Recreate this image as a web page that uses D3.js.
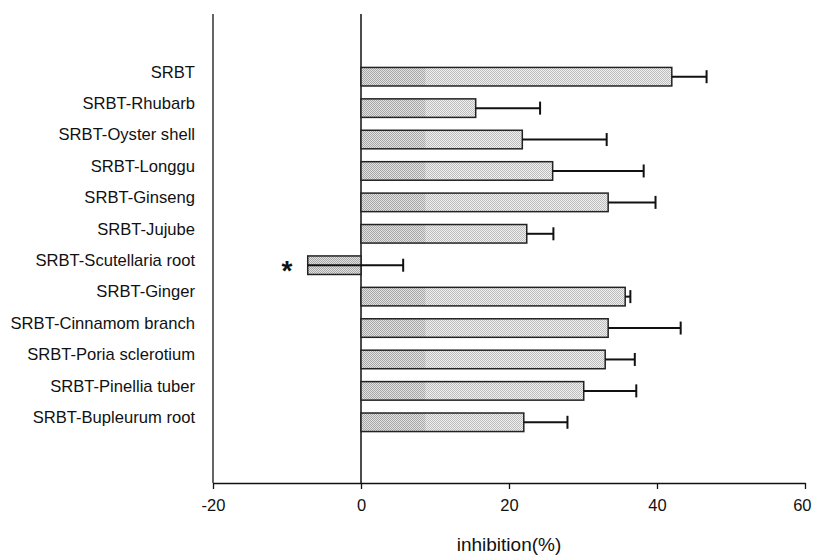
<!DOCTYPE html>
<html>
<head>
<meta charset="utf-8">
<script src="https://cdn.jsdelivr.net/npm/d3@7"></script>
<style>
  body { margin: 0; background: #fff; }
  text { font-family: "Liberation Sans", Arial, sans-serif; fill: #111; }
</style>
</head>
<body>
<div id="container"></div>
<script>
const categories = ["SRBT", "SRBT-Rhubarb", "SRBT-Oyster shell", "SRBT-Longgu", "SRBT-Ginseng",
  "SRBT-Jujube", "SRBT-Scutellaria root", "SRBT-Ginger", "SRBT-Cinnamom branch",
  "SRBT-Poria sclerotium", "SRBT-Pinellia tuber", "SRBT-Bupleurum root"]
const inhibition = [42.0, 15.5, 21.8, 25.9, 33.4, 22.4, -7.2, 35.7, 33.4, 33.0, 30.1, 22.0]
const errors = [4.7, 8.7, 11.4, 12.3, 6.4, 3.6, 12.9, 0.7, 9.8, 4.0, 7.1, 5.9]
const marks = ["", "", "", "", "", "", "*", "", "", "", "", ""]
const xTicks = [-20, 0, 20, 40, 60]

const width = 813, height = 557
const plotTop = 14, plotBottom = 483

const data = categories.map((c, i) => ({label: c, value: inhibition[i], err: errors[i], mark: marks[i]}))

const svg = d3.select("#container")
  .append("svg")
    .attr("width", width)
    .attr("height", height)

// stippled fills
const defs = svg.append("defs")
function stipple(id, bg, fg) {
  const p = defs.append("pattern").attr("id", id)
    .attr("patternUnits", "userSpaceOnUse").attr("width", 2).attr("height", 2)
  p.append("rect").attr("width", 2).attr("height", 2).attr("fill", bg)
  p.append("rect").attr("width", 1).attr("height", 1).attr("fill", fg)
  p.append("rect").attr("x", 1).attr("y", 1).attr("width", 1).attr("height", 1).attr("fill", fg)
}
stipple("lightDots", "#f0f0f0", "#bdbdbd")
stipple("darkDots", "#e2e2e2", "#a6a6a6")

const x = d3.scaleLinear().domain([-20, 60]).range([213, 805])
const y = d3.scaleBand().domain(categories).range([61, 438]).paddingInner(0.41).paddingOuter(0.205)

// x axis
const xAxis = svg.append("g")
  .attr("transform", `translate(0,${plotBottom})`)
  .call(d3.axisBottom(x).tickValues(xTicks).tickFormat(d3.format("d")).tickSize(6).tickSizeOuter(0))
xAxis.select(".domain").attr("stroke", "#111").attr("stroke-width", 1.5)
xAxis.selectAll(".tick line").attr("stroke", "#111").attr("stroke-width", 1.3)
xAxis.selectAll(".tick text").attr("y", 16).style("font-size", "16.5px").attr("fill", "#111")
  .text(d => d < 0 ? "-" + Math.abs(d) : d)
// keep the last label inside the page
xAxis.selectAll(".tick text").filter(d => d === 60)
  .attr("text-anchor", "end").attr("x", width - 2 - x(60))

svg.append("text")
  .attr("x", (x(-20) + x(60)) / 2)
  .attr("y", 551)
  .attr("text-anchor", "middle")
  .style("font-size", "19px")
  .text("inhibition(%)")

// left line and zero line
svg.append("line")
  .attr("x1", x(-20)).attr("x2", x(-20)).attr("y1", plotTop).attr("y2", plotBottom)
  .attr("stroke", "#333").attr("stroke-width", 1.5)
svg.append("line")
  .attr("x1", x(0)).attr("x2", x(0)).attr("y1", plotTop).attr("y2", plotBottom)
  .attr("stroke", "#111").attr("stroke-width", 1.5)

// category labels
svg.append("g").selectAll("text")
  .data(data)
  .join("text")
    .attr("x", 195)
    .attr("y", d => y(d.label) + y.bandwidth() / 2 - 5)
    .attr("dy", "0.35em")
    .attr("text-anchor", "end")
    .style("font-size", "16.6px")
    .text(d => d.label)

// bars
const bars = svg.append("g")
bars.selectAll("rect.bar")
  .data(data)
  .join("rect")
    .attr("class", "bar")
    .attr("x", d => x(Math.min(0, d.value)))
    .attr("y", d => y(d.label))
    .attr("width", d => Math.abs(x(d.value) - x(0)))
    .attr("height", y.bandwidth())
    .attr("fill", d => d.value < 0 ? "url(#darkDots)" : "url(#lightDots)")
// darker band near the zero line
bars.selectAll("rect.shade")
  .data(data.filter(d => d.value > 0))
  .join("rect")
    .attr("class", "shade")
    .attr("x", x(0))
    .attr("y", d => y(d.label))
    .attr("width", d => x(Math.min(d.value, 8.7)) - x(0))
    .attr("height", y.bandwidth())
    .attr("fill", "url(#darkDots)")
bars.selectAll("rect.outline")
  .data(data)
  .join("rect")
    .attr("class", "outline")
    .attr("x", d => x(Math.min(0, d.value)))
    .attr("y", d => y(d.label))
    .attr("width", d => Math.abs(x(d.value) - x(0)))
    .attr("height", y.bandwidth())
    .attr("fill", "none")
    .attr("stroke", "#222")
    .attr("stroke-width", 1.5)

// error bars
const eb = svg.append("g").attr("stroke", "#111").attr("stroke-width", 2)
eb.selectAll("line.stem")
  .data(data)
  .join("line")
    .attr("class", "stem")
    .attr("x1", d => x(d.value))
    .attr("x2", d => x(d.value + d.err))
    .attr("y1", d => y(d.label) + y.bandwidth() / 2)
    .attr("y2", d => y(d.label) + y.bandwidth() / 2)
eb.selectAll("line.cap")
  .data(data)
  .join("line")
    .attr("class", "cap")
    .attr("x1", d => x(d.value + d.err))
    .attr("x2", d => x(d.value + d.err))
    .attr("y1", d => y(d.label) + y.bandwidth() / 2 - 6.5)
    .attr("y2", d => y(d.label) + y.bandwidth() / 2 + 6.5)

// significance
svg.append("g").selectAll("text")
  .data(data.filter(d => d.mark))
  .join("text")
    .attr("x", x(-10))
    .attr("y", d => y(d.label) + y.bandwidth() / 2 + 15)
    .attr("text-anchor", "middle")
    .style("font-size", "28px")
    .style("font-weight", "bold")
    .text(d => d.mark)
</script>
</body>
</html>
